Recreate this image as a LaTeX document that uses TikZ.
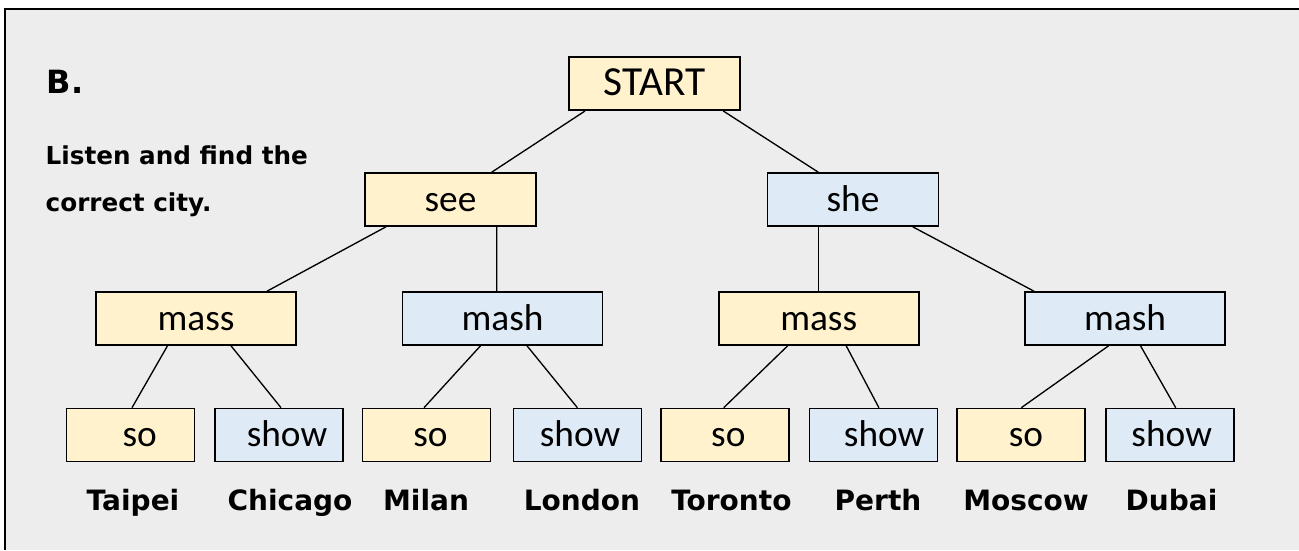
\documentclass[tikz,border=0pt]{standalone}
\usepackage{fontspec}
\setmainfont{Carlito}
\newfontfamily\cityfont{DejaVu Sans}
\usetikzlibrary{calc}
\definecolor{panelgray}{HTML}{EDEDED}
\definecolor{boxyellow}{HTML}{FFF2CC}
\definecolor{boxblue}{HTML}{DEEBF7}
\begin{document}
\begin{tikzpicture}[x=0.75pt, y=-0.75pt,
  word/.style={draw, line width=1.2pt, inner sep=0pt, minimum height=39.75pt,
    font=\fontsize{28}{30}\selectfont, text height=21pt, text depth=3.5pt},
  yellowbox/.style={word, fill=boxyellow},
  bluebox/.style={word, fill=boxblue},
  toprow/.style={minimum width=128.25pt},
  midrow/.style={minimum width=150pt},
  leafrow/.style={minimum width=96pt},
  city/.style={anchor=base, font=\cityfont\bfseries\fontsize{21}{24}\selectfont},
  task/.style={anchor=base west, font=\cityfont\bfseries\fontsize{18.5}{22}\selectfont},
  link/.style={line width=1pt}]
\useasboundingbox (0,0) rectangle (1299,550);
% panel
\fill[panelgray] (5,9) rectangle (1299,550);
\draw[line width=1.7pt] (5,550) -- (5,9) -- (1299,9);
\node[anchor=base west, font=\cityfont\bfseries\fontsize{24}{28}\selectfont] (part) at (42,93) {B.};
\node[task] (task1) at (41,164) {Listen and find the};
\node[task] (task2) at (41,211) {correct city.};
% tree
\node[yellowbox, toprow, font=\fontsize{31}{33}\selectfont] (start) at (654.5,83.7) {START};
\node[yellowbox, toprow] (see) at (450.5,199.5) {see};
\node[bluebox, toprow] (she) at (853,199.5) {she};
\node[yellowbox, midrow] (massA) at (196,318.5) {mass};
\node[bluebox, midrow] (mashA) at (502.5,318.5) {mash};
\node[yellowbox, midrow] (massB) at (818.7,318.5) {mass};
\node[bluebox, midrow] (mashB) at (1125,318.5) {mash};
\node[yellowbox, leafrow] (soA) at (130.4,435) {\hspace{14pt}so};
\node[bluebox, leafrow] (showA) at (279,435) {\hspace{12pt}show};
\node[yellowbox, leafrow] (soB) at (426.4,435) {\hspace{6pt}so};
\node[bluebox, leafrow] (showB) at (577.4,435) {\hspace{4pt}show};
\node[yellowbox, leafrow] (soC) at (725,435) {\hspace{5pt}so};
\node[bluebox, leafrow] (showC) at (873.5,435) {\hspace{16pt}show};
\node[yellowbox, leafrow] (soD) at (1020.7,435) {\hspace{8pt}so};
\node[bluebox, leafrow] (showD) at (1169.7,435) {\hspace{3pt}show};
% links
\draw[link] ($(start.south)+(-69.5,0)$) -- ($(see.north)+(41.2,0)$);
\draw[link] ($(start.south)+(68.8,0)$) -- ($(she.north)+(-34.7,0)$);
\draw[link] ($(see.south)+(-64.5,0)$) -- ($(massA.north)+(71,0)$);
\draw[link] ($(see.south)+(46.2,0)$) -- ($(mashA.north)+(-5.8,0)$);
\draw[link] ($(she.south)+(-34.7,0)$) -- ($(massB.north)+(-0.4,0)$);
\draw[link] ($(she.south)+(59.7,0)$) -- ($(mashB.north)+(-91,0)$);
\draw[link] ($(massA.south)+(-28.5,0)$) -- ($(soA.north)+(1.6,0)$);
\draw[link] ($(massA.south)+(35,0)$) -- ($(showA.north)+(2,0)$);
\draw[link] ($(mashA.south)+(-22,0)$) -- ($(soB.north)+(-2.4,0)$);
\draw[link] ($(mashA.south)+(24.5,0)$) -- ($(showB.north)+(0,0)$);
\draw[link] ($(massB.south)+(-31,0)$) -- ($(soC.north)+(-1.3,0)$);
\draw[link] ($(massB.south)+(27.5,0)$) -- ($(showC.north)+(5.4,0)$);
\draw[link] ($(mashB.south)+(-16.4,0)$) -- ($(soD.north)+(0.6,0)$);
\draw[link] ($(mashB.south)+(15.5,0)$) -- ($(showD.north)+(6,0)$);
% cities
\node[city] (taipei) at (133,510) {Taipei};
\node[city] (chicago) at (290,510) {Chicago};
\node[city] (milan) at (426,510) {Milan};
\node[city] (london) at (582,510) {London};
\node[city] (toronto) at (731.4,510) {Toronto};
\node[city] (perth) at (878,510) {Perth};
\node[city] (moscow) at (1026,510) {Moscow};
\node[city] (dubai) at (1171.5,510) {Dubai};
\end{tikzpicture}
\end{document}
